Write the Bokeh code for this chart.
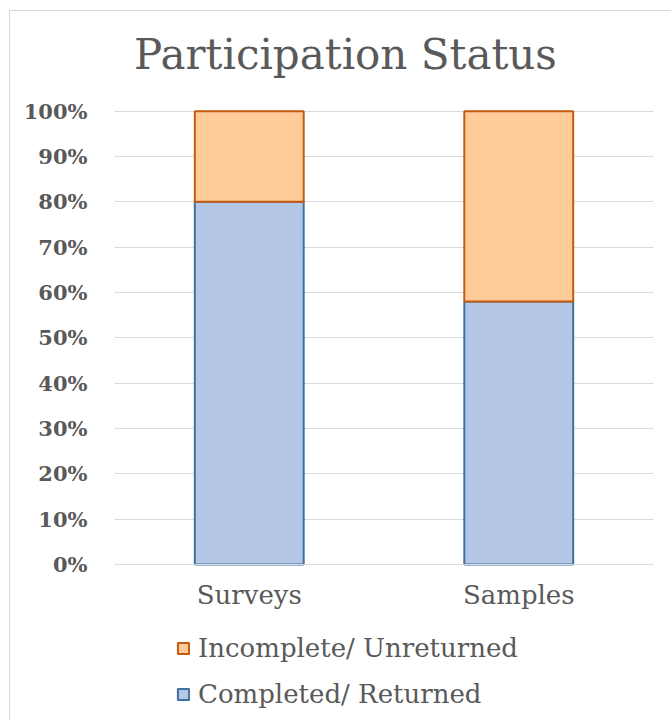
from bokeh.plotting import figure
from bokeh.models import (NumeralTickFormatter, FixedTicker, Legend, LegendItem,
                          Label, ColumnDataSource, Range1d)
from bokeh.embed import file_html
from bokeh.resources import INLINE

# ---- data ----
categories = ["Surveys", "Samples"]
completed = [0.80, 0.58]
incomplete = [0.20, 0.42]
series_names = ["Completed/ Returned", "Incomplete/ Unreturned"]
title_text = "Participation Status"
y_ticks = [0, 0.1, 0.2, 0.3, 0.4, 0.5, 0.6, 0.7, 0.8, 0.9, 1.0]

FONT = "DejaVu Serif"
TXT = "#595959"
GRID = "#d9d9d9"

src = ColumnDataSource(dict(cat=categories, completed=completed, incomplete=incomplete))

# frame fills the figure vertically; the y range reaches beyond 0..1 so that
# title, category labels and legend all lie inside the frame
p = figure(x_range=categories, y_range=Range1d(-0.3464, 1.22),
           width=662, height=710, output_backend="svg", toolbar_location=None,
           min_border_left=104, min_border_right=19, min_border_top=0,
           min_border_bottom=0)
p.title.visible = False
p.outline_line_color = None
p.background_fill_color = "white"
p.border_fill_color = "white"

rs = p.vbar_stack(["completed", "incomplete"], x="cat", width=0.404, source=src,
                  fill_color=["#b4c7e7", "#ffcc99"],
                  line_color=["#41719c", "#c55a11"], line_width=2)

# y axis
p.yaxis.ticker = FixedTicker(ticks=y_ticks)
p.yaxis.formatter = NumeralTickFormatter(format="0%")
p.yaxis.axis_line_color = None
p.yaxis.major_tick_line_color = None
p.yaxis.minor_tick_line_color = None
p.yaxis.major_label_text_font = FONT
p.yaxis.major_label_text_font_style = "bold"
p.yaxis.major_label_text_font_size = "21px"
p.yaxis.major_label_text_color = TXT
p.yaxis.major_label_standoff = 21

# x axis sits on the 0% line
p.xaxis.fixed_location = 0
p.xaxis.axis_line_color = GRID
p.xaxis.axis_line_width = 1
p.xaxis.major_tick_line_color = None
p.xaxis.minor_tick_line_color = None
p.xaxis.major_label_text_font = FONT
p.xaxis.major_label_text_font_size = "26px"
p.xaxis.major_label_text_color = TXT
p.xaxis.major_label_standoff = 10

p.xgrid.grid_line_color = None
p.ygrid.grid_line_color = GRID
p.ygrid.grid_line_width = 1

p.add_layout(Label(x=231, y=1.125, x_units="screen", y_units="data", text=title_text,
                   text_align="center", text_baseline="alphabetic",
                   text_font=FONT, text_font_size="42px", text_color=TXT))

legend = Legend(items=[LegendItem(label=series_names[1], renderers=[rs[1]]),
                       LegendItem(label=series_names[0], renderers=[rs[0]])],
                location=(62, 12), orientation="vertical",
                glyph_width=14, glyph_height=14, label_standoff=8, spacing=16,
                label_height=29,
                padding=0, margin=0, border_line_color=None,
                background_fill_alpha=0,
                label_text_font=FONT, label_text_font_size="26px",
                label_text_color=TXT)
p.add_layout(legend, "center")

p.styles = {"margin-left": "9px", "margin-top": "10px",
            "border-top": "1px solid #d9d9d9", "border-left": "1px solid #d9d9d9"}

open("out.html", "w").write(file_html(p, INLINE))
